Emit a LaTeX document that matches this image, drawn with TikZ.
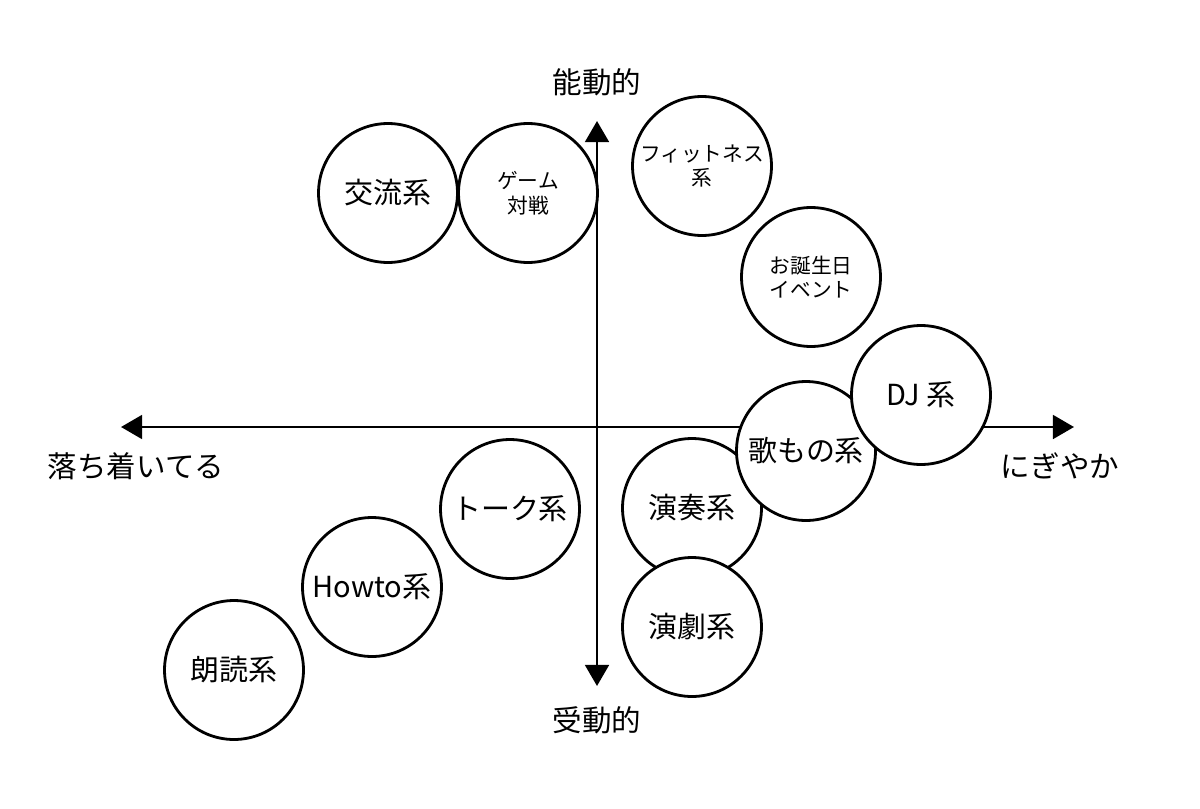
\documentclass[tikz,border=0pt]{standalone}
\usepackage{fontspec}
\setmainfont{Noto Sans CJK JP}
\usetikzlibrary{arrows.meta}
\tikzset{genre/.style={circle,draw,line width=1.6pt,fill=white,minimum size=2.78cm,inner sep=0pt,align=center,font=\fontsize{16.5}{19}\selectfont},
  genresmall/.style={genre,font=\fontsize{11.8}{14}\selectfont},
  axislabel/.style={font=\fontsize{16.8}{19}\selectfont},
  axisline/.style={line width=1.6pt,{Triangle[length=12pt,width=13.5pt]}-{Triangle[length=12pt,width=13.5pt]}}}

\begin{document}
\begin{tikzpicture}[x=0.02cm, y=-0.02cm]
\useasboundingbox (0,0) rectangle (1200,808);
% axes
\coordinate (west) at (121,427);
\coordinate (east) at (1074,427);
\coordinate (north) at (597,121);
\coordinate (south) at (597,686);
\draw[axisline] (west) -- (east);
\draw[axisline] (north) -- (south);
\node[axislabel] (active) at (597,82) {能動的};
\node[axislabel] (passive) at (597,720) {受動的};
\node[axislabel] (calm) at (136,466) {落ち着いてる};
\node[axislabel] (lively) at (1060,466) {にぎやか};
% genres
\node[genre] (social) at (388,193) {交流系};
\node[genresmall] (game) at (528,193) {ゲーム\\対戦};
\node[genresmall] (fitness) at (702,166) {フィットネス\\系};
\node[genresmall] (birthday) at (811,277) {お誕生日\\イベント};
\node[genre] (music) at (692,508) {演奏系};
\node[genre] (drama) at (692,627) {演劇系};
\node[genre] (song) at (806,451) {歌もの系};
\node[genre] (dj) at (921,395) {DJ 系};
\node[genre] (talk) at (510,509) {トーク系};
\node[genre] (howto) at (372,587) {Howto系};
\node[genre] (reading) at (234,670) {朗読系};
\end{tikzpicture}
\end{document}
